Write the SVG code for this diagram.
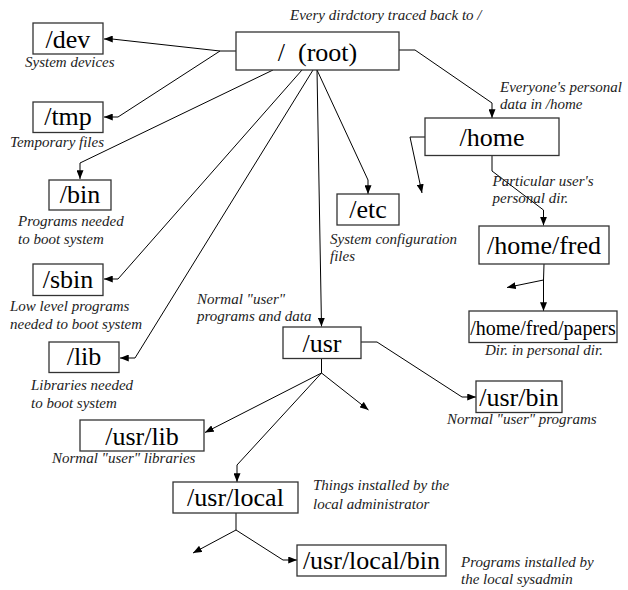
<svg xmlns="http://www.w3.org/2000/svg" width="628" height="590" viewBox="0 0 628 590">
<defs>
<marker id="ah" viewBox="0 0 10 8" refX="10" refY="4" markerWidth="9" markerHeight="7" markerUnits="userSpaceOnUse" orient="auto"><path d="M0,0 L10,4 L0,8 z" fill="#000"/></marker>
</defs>
<style>
.box{fill:#fff;stroke:#333;stroke-width:1.3}
.t{font-family:"Liberation Serif","Times New Roman",serif;font-size:26px;text-anchor:middle;fill:#000}
.c{font-family:"Liberation Serif","Times New Roman",serif;font-style:italic;font-size:15px;fill:#222}
.e{fill:none;stroke:#000;stroke-width:1}
.a{marker-end:url(#ah)}
</style>
<rect width="628" height="590" fill="#fff"/>
<g id="connectors">
<path class="e a" d="M236,51 L220,51 L112,39 L104,39"/>
<path class="e a" d="M220,51 L118,117 L104,117"/>
<path class="e a" d="M273,70 L80,163 L80,179"/>
<path class="e a" d="M302,70 L118,279 L104,279"/>
<path class="e a" d="M313,70 L135,358 L120,358"/>
<path class="e a" d="M317,70 L321.5,326.5"/>
<path class="e a" d="M317,70 L368,180 L368,194"/>
<path class="e a" d="M399,50 L415,50 L492,103 L492,118"/>
<path class="e a" d="M425,137 L410,137 L422,193"/>
<path class="e a" d="M492,156 L492,171 L543.5,210 L543.5,225.5"/>
<path class="e" d="M544,264 L543.5,280"/>
<path class="e a" d="M543.5,280 L507,287.5"/>
<path class="e a" d="M543.5,280 L543.5,311"/>
<path class="e a" d="M361,342 L377,342 L462,397 L476,397"/>
<path class="e" d="M321.5,358 L321.5,373"/>
<path class="e a" d="M321.5,373 L205,432.5"/>
<path class="e a" d="M321.5,373 L368.5,410"/>
<path class="e a" d="M321.5,373 L237,465 L237,482"/>
<path class="e" d="M236,513 L236,530"/>
<path class="e a" d="M236,530 L193,553"/>
<path class="e a" d="M236,530 L283,560 L297,560"/>
</g>
<g id="root"><rect class="box" x="236" y="32" width="163" height="38"/><text class="t" x="317.5" y="60.5" xml:space="preserve">/  (root)</text>
<text class="c" x="290" y="20">Every dirdctory traced back to /</text></g>
<g id="dev"><rect class="box" x="33" y="23" width="70" height="31"/><text class="t" x="68" y="47.5">/dev</text>
<text class="c" x="25" y="67">System devices</text></g>
<g id="tmp"><rect class="box" x="33" y="102" width="70" height="30.5"/><text class="t" x="68" y="125">/tmp</text>
<text class="c" x="10" y="146.5">Temporary files</text></g>
<g id="bin"><rect class="box" x="49" y="180" width="62" height="30"/><text class="t" x="80" y="203">/bin</text>
<text class="c" x="18" y="226">Programs needed</text><text class="c" x="18" y="244">to boot system</text></g>
<g id="sbin"><rect class="box" x="33" y="264" width="70" height="31.5"/><text class="t" x="68" y="288">/sbin</text>
<text class="c" x="10" y="310.5">Low level programs</text><text class="c" x="10" y="328.5">needed to boot system</text></g>
<g id="lib"><rect class="box" x="49" y="342" width="70" height="30.5"/><text class="t" x="84" y="365">/lib</text>
<text class="c" x="31" y="390">Libraries needed</text><text class="c" x="31" y="407.5">to boot system</text></g>
<g id="etc"><rect class="box" x="337" y="194" width="62" height="31"/><text class="t" x="368" y="217.5">/etc</text>
<text class="c" x="330" y="243.5">System configuration</text><text class="c" x="330" y="260.5">files</text></g>
<g id="usr"><rect class="box" x="283" y="327" width="78" height="31.5"/><text class="t" x="322" y="351.5">/usr</text>
<text class="c" x="197" y="303.5">Normal "user"</text><text class="c" x="197" y="320.5">programs and data</text></g>
<g id="usrbin"><rect class="box" x="476" y="381" width="86" height="31.5"/><text class="t" x="519" y="406">/usr/bin</text>
<text class="c" x="447" y="423.5">Normal "user" programs</text></g>
<g id="usrlib"><rect class="box" x="80" y="420" width="124" height="31"/><text class="t" x="142" y="445">/usr/lib</text>
<text class="c" x="52" y="463">Normal "user" libraries</text></g>
<g id="usrlocal"><rect class="box" x="173" y="482" width="125" height="31"/><text class="t" x="235.5" y="506">/usr/local</text>
<text class="c" x="313" y="490">Things installed by the</text><text class="c" x="313" y="508.5">local administrator</text></g>
<g id="usrlocalbin"><rect class="box" x="297" y="545" width="149" height="31"/><text class="t" x="371.5" y="568.5">/usr/local/bin</text>
<text class="c" x="461" y="567">Programs installed by</text><text class="c" x="461" y="583.5">the local sysadmin</text></g>
<g id="home"><rect class="box" x="425" y="118" width="134" height="37.5"/><text class="t" x="492" y="145.5">/home</text>
<text class="c" x="500" y="91.5">Everyone's personal</text><text class="c" x="500" y="108.5">data in /home</text></g>
<g id="homefred"><rect class="box" x="479" y="226" width="130" height="38"/><text class="t" x="544" y="254">/home/fred</text>
<text class="c" x="492.5" y="185.5">Particular user's</text><text class="c" x="492.5" y="203">personal dir.</text></g>
<g id="papers"><rect class="box" x="469" y="311" width="148" height="31.5"/><text class="t" x="543" y="334.5" style="font-size:20px">/home/fred/papers</text>
<text class="c" x="485" y="355">Dir. in personal dir.</text></g>
</svg>
